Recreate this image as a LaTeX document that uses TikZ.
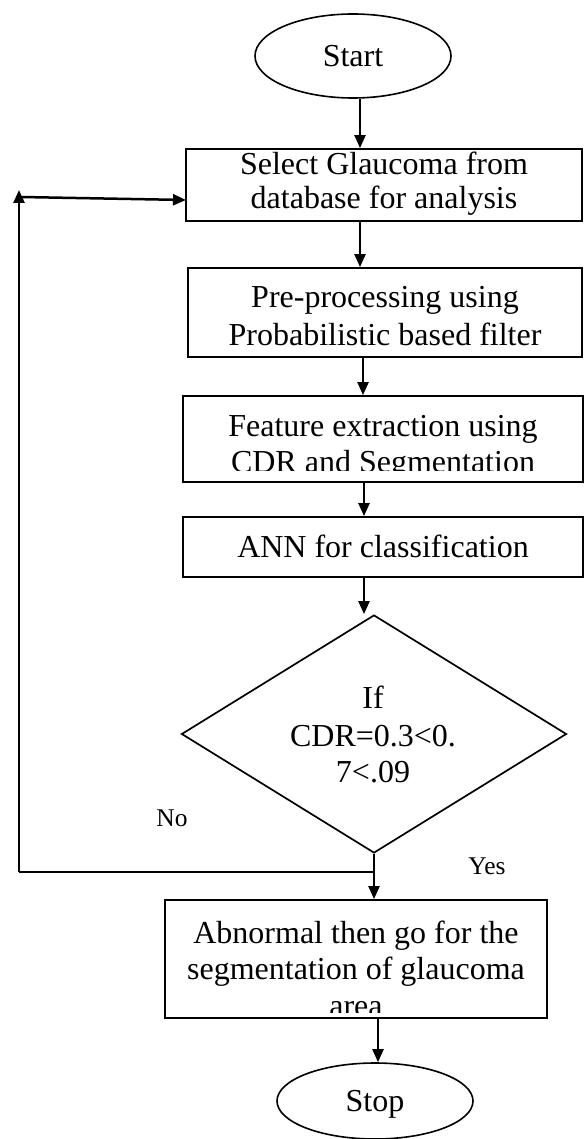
\documentclass[tikz,border=0pt]{standalone}
\usepackage{fontspec}
\setmainfont{Liberation Serif}
\usetikzlibrary{shapes.geometric,arrows.meta}
\begin{document}
\begin{tikzpicture}[x=1pt,y=1pt,
  boxst/.style={draw, line width=1.8pt, inner sep=0pt, rectangle},
  ovalst/.style={draw, ellipse, line width=1.6pt, inner sep=0pt, font=\fontsize{32}{36}\selectfont, text height=21pt, text depth=0pt},
  decst/.style={draw, diamond, line width=1.7pt, inner sep=0pt},
  txt/.style={inner sep=0pt, anchor=base, font=\fontsize{32}{36}\selectfont},
  lbl/.style={inner sep=0pt, anchor=base, font=\fontsize{25.5}{30}\selectfont},
  arr/.style={line width=2.3pt, -{Triangle[length=13pt,width=11pt]}},
  lnk/.style={line width=2.5pt}
]
\useasboundingbox (0,0) rectangle (584,-1139);

% shapes
\node[ovalst, minimum width=196pt, minimum height=84pt] (start) at (353,-56) {Start};
\node[boxst, minimum width=396pt, minimum height=72pt] (b1) at (384,-185) {};
\node[boxst, minimum width=394pt, minimum height=89pt] (b2) at (385,-312.5) {};
\node[boxst, minimum width=400pt, minimum height=86pt] (b3) at (383,-439) {};
\node[boxst, minimum width=400pt, minimum height=60pt] (b4) at (383,-547) {};
\node[decst, minimum width=385pt, minimum height=238pt] (dec) at (374,-734) {};
\node[boxst, minimum width=382pt, minimum height=118pt] (b5) at (356,-959) {};
\node[ovalst, minimum width=196pt, minimum height=76pt] (stop) at (375,-1101) {Stop};

% texts
\node[txt] (t1a) at (384,-175) {Select Glaucoma from};
\node[txt] (t1b) at (384,-209) {database for analysis};
\node[txt] (t2a) at (385,-308) {Pre-processing using};
\node[txt] (t2b) at (385,-345) {Probabilistic based filter};
\node[txt] (t3a) at (383,-436) {Feature extraction using};
\begin{scope}
  \clip (183,-396) rectangle (583,-470);
  \node[txt] (t3b) at (383,-472) {CDR and Segmentation};
\end{scope}
\node[txt] (t4) at (383,-557) {ANN for classification};
\node[txt] (d1) at (373,-708) {If};
\node[txt] (d2) at (373,-746) {CDR=0.3<0.};
\node[txt] (d3) at (373,-782) {7<.09};
\node[txt] (t5a) at (356,-943) {Abnormal then go for the};
\node[txt] (t5b) at (356,-979) {segmentation of glaucoma};
\begin{scope}
  \clip (165,-900) rectangle (547,-1012);
  \node[txt] (t5c) at (356,-1016) {area};
\end{scope}
\node[lbl] (no) at (172,-826) {No};
\node[lbl] (yes) at (487,-874) {Yes};

% column coordinates
\coordinate (c1) at (360,0);
\coordinate (c2) at (363,0);
\coordinate (c3) at (364,0);
\coordinate (c4) at (378,0);
\coordinate (ly) at (374,-872);
\coordinate (lc) at (19,-872);
\coordinate (lt) at (19,-190);
\coordinate (ls) at (21,-197);
\coordinate (la) at (186,-200);

% connectors
\draw[arr] (start.south -| c1) -- (b1.north -| c1);
\draw[arr] (b1.south -| c1) -- (b2.north -| c1);
\draw[arr] (b2.south -| c2) -- (b3.north -| c2);
\draw[arr] (b3.south -| c3) -- (b4.north -| c3);
\draw[arr] (b4.south -| c3) -- (dec.north -| c3);
\draw[arr] (dec.south) -- (b5.north -| dec.south);
\draw[arr] (b5.south -| c4) -- (stop.north -| c4);
\draw[lnk] (ly) -- (lc);
\draw[arr, line width=2.5pt] (lc) -- (lt);
\draw[arr, line width=2.5pt] (ls) -- (la);
\end{tikzpicture}
\end{document}
